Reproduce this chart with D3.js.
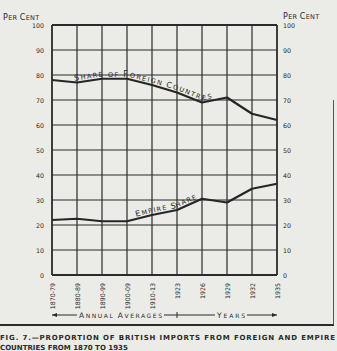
<!DOCTYPE html>
<html>
<head>
<meta charset="utf-8">
<script src="https://cdn.jsdelivr.net/npm/d3@7"></script>
<style>
  html, body { margin: 0; padding: 0; background: #ebebe8; }
  svg { display: block; }
  text { font-family: "DejaVu Sans", sans-serif; fill: #2a2a2a; }
</style>
</head>
<body>
<svg id="chart" width="337" height="351"></svg>
<script>
// Periods (annual averages, then single years)
const periods = ["1870-79", "1880-89", "1890-99", "1900-09", "1910-13",
                 "1923", "1926", "1929", "1932", "1935"];
// Percentage of British imports by origin
const foreignShare = [78, 77, 78.5, 78.5, 76, 73, 69, 71, 64.5, 62];
const empireShare  = [22, 22.5, 21.5, 21.5, 24, 26, 30.5, 29, 34.5, 36.5];
const percentTicks = [0, 10, 20, 30, 40, 50, 60, 70, 80, 90, 100];

const ink = "#2b2b2b";
const svg = d3.select("#chart");

const x = d3.scalePoint().domain(periods).range([52, 277]).padding(0);
const y = d3.scaleLinear().domain([0, 100]).range([275, 25]);

// grid
const grid = svg.append("g");
grid.selectAll("line.h").data(percentTicks).join("line")
  .attr("x1", x.range()[0]).attr("x2", x.range()[1])
  .attr("y1", d => y(d)).attr("y2", d => y(d))
  .attr("stroke", ink).attr("stroke-width", d => (d === 0 || d === 100) ? 1.8 : 1.2);
grid.selectAll("line.v").data(periods).join("line")
  .attr("x1", d => x(d)).attr("x2", d => x(d))
  .attr("y1", y(0)).attr("y2", y(100))
  .attr("stroke", ink)
  .attr("stroke-width", (d, i) => (i === 0 || i === periods.length - 1) ? 1.8 : 1.2);

// axes
function styleAxis(g) {
  g.select(".domain").remove();
  g.selectAll(".tick line").remove();
  g.selectAll("text").attr("font-size", 6.3).attr("fill", ink)
    .attr("font-family", "DejaVu Sans Condensed, DejaVu Sans, sans-serif");
}
svg.append("g").attr("transform", `translate(${x.range()[0]},0)`)
  .call(d3.axisLeft(y).tickValues(percentTicks).tickSize(0).tickPadding(8))
  .call(styleAxis);
svg.append("g").attr("transform", `translate(${x.range()[1]},0)`)
  .call(d3.axisRight(y).tickValues(percentTicks).tickSize(0).tickPadding(6))
  .call(styleAxis);
svg.append("g").attr("transform", `translate(0,${y(0)})`)
  .call(d3.axisBottom(x).tickSize(0).tickPadding(0))
  .call(styleAxis)
  .call(g => g.selectAll("text")
    .attr("transform", "rotate(-90)")
    .attr("text-anchor", "end")
    .attr("dy", "0.35em")
    .attr("x", -8).attr("y", 0));

// small-caps helper: first letter of each main word larger
function smallCaps(sel, str, big, small) {
  str.split(/(\s+)/).forEach(part => {
    if (!part) return;
    if (/^\s+$/.test(part) || part.length <= 2) { sel.append("tspan").attr("font-size", small).text(part); return; }
    sel.append("tspan").attr("font-size", big).text(part[0]);
    sel.append("tspan").attr("font-size", small).text(part.slice(1));
  });
}
// spread letters so the text fills a given width
function fitWidth(textSel, target) {
  const node = textSel.node();
  const n = textSel.text().length;
  const w = node.getComputedTextLength();
  textSel.attr("letter-spacing", Math.max(0, (target - w) / (n - 1)));
}

// "Per Cent" headers
smallCaps(svg.append("text").attr("x", 3).attr("y", 20).attr("letter-spacing", 0.3), "PER CENT", 8, 6.5);
smallCaps(svg.append("text").attr("x", 283).attr("y", 19).attr("letter-spacing", 0.3), "PER CENT", 8, 6.5);

// series lines
const line = d3.line().x((d, i) => x(periods[i])).y(d => y(d));
const defs = svg.append("defs");
[["foreignPath", foreignShare], ["empirePath", empireShare]].forEach(([id, vals]) => {
  defs.append("path").attr("id", id).attr("d", line(vals));
  svg.append("path").attr("d", line(vals))
    .attr("fill", "none").attr("stroke", "#262626").attr("stroke-width", 2.2)
    .attr("stroke-linejoin", "round");
});

// labels resting on the lines
function pathLabel(id, str, offset, len) {
  const t = svg.append("text").attr("dy", -2.2);
  const tp = t.append("textPath").attr("href", "#" + id).attr("startOffset", offset);
  smallCaps(tp, str, 8, 6.5);
  fitWidth(t, len);
}
pathLabel("foreignPath", "SHARE OF FOREIGN COUNTRIES", 23, 142);
pathLabel("empirePath", "EMPIRE SHARE", 85, 64);

// period arrows
const ay = 315;
const arr = svg.append("g").attr("stroke", ink).attr("stroke-width", 1);
arr.append("line").attr("x1", x(periods[0])).attr("x2", 77).attr("y1", ay).attr("y2", ay);
arr.append("line").attr("x1", 164).attr("x2", 215).attr("y1", ay).attr("y2", ay);
arr.append("line").attr("x1", 247).attr("x2", x(periods[9])).attr("y1", ay).attr("y2", ay);
arr.append("line").attr("x1", x("1923")).attr("x2", x("1923")).attr("y1", ay - 3).attr("y2", ay + 3);
svg.append("path")
  .attr("d", `M${x(periods[0])},${ay} l5,-2 l0,4 Z M${x(periods[9])},${ay} l-5,-2 l0,4 Z`)
  .attr("fill", ink);
const annual = svg.append("text").attr("x", 79).attr("y", ay + 2.5);
smallCaps(annual, "ANNUAL AVERAGES", 7.5, 6);
fitWidth(annual, 83);
const years = svg.append("text").attr("x", 217).attr("y", ay + 2.5);
smallCaps(years, "YEARS", 7.5, 6);
fitWidth(years, 28);

// frame rules
svg.append("line").attr("x1", 0).attr("x2", 334).attr("y1", 325).attr("y2", 325)
  .attr("stroke", ink).attr("stroke-width", 2);
svg.append("line").attr("x1", 333.5).attr("x2", 333.5).attr("y1", 100).attr("y2", 325)
  .attr("stroke", "#555").attr("stroke-width", 1);

// caption
const cap1 = svg.append("text").attr("x", 0).attr("y", 340)
  .attr("font-size", 7).attr("font-weight", "bold")
  .text("FIG. 7.—PROPORTION OF BRITISH IMPORTS FROM FOREIGN AND EMPIRE");
fitWidth(cap1, 335);
const cap2 = svg.append("text").attr("x", 0).attr("y", 350)
  .attr("font-size", 7).attr("font-weight", "bold")
  .text("COUNTRIES FROM 1870 TO 1935");
fitWidth(cap2, 127);
</script>
</body>
</html>
